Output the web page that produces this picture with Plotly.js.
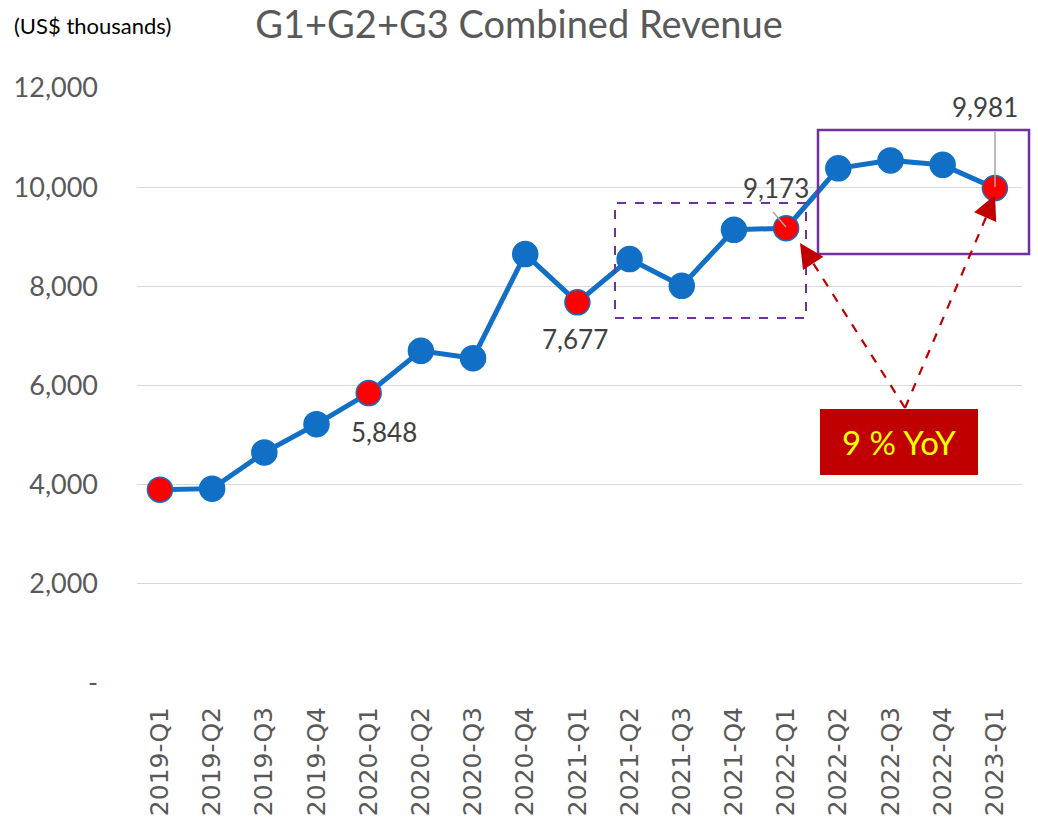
<!DOCTYPE html>
<html>
<head>
<meta charset="utf-8">
<script src="https://cdn.plot.ly/plotly-3.0.1.min.js"></script>
<style>html,body{margin:0;padding:0;background:#fff;}#chart{width:1038px;height:823px;}</style>
</head>
<body>
<div id="chart"></div>
<script>
const quarters = ["2019-Q1","2019-Q2","2019-Q3","2019-Q4","2020-Q1","2020-Q2","2020-Q3","2020-Q4","2021-Q1","2021-Q2","2021-Q3","2021-Q4","2022-Q1","2022-Q2","2022-Q3","2022-Q4","2023-Q1"];
const revenue = [3900, 3920, 4650, 5220, 5848, 6700, 6550, 8650, 7677, 8550, 8010, 9140, 9173, 10380, 10540, 10450, 9981];
const highlightQuarters = ["2019-Q1","2020-Q1","2021-Q1","2022-Q1","2023-Q1"];
const labeledQuarters = ["2020-Q1","2021-Q1","2022-Q1","2023-Q1"];
const yTickVals = [0, 2000, 4000, 6000, 8000, 10000, 12000];
const yTickText = ["-", "2,000", "4,000", "6,000", "8,000", "10,000", "12,000"];
const yoyText = "9 % YoY";

const BLUE = "#1170C6";
const markerColors = quarters.map(q => highlightQuarters.includes(q) ? "#FF0000" : BLUE);

// pixel -> paper helpers (plot area: x 137..1022, y 88..683)
const L = 137, R = 1022, T = 88, B = 683;
const px = v => (v - L) / (R - L);
const py = v => (B - v) / (B - T);

const labelOffsets = {"2020-Q1": [15, -39], "2021-Q1": [-2, -37], "2022-Q1": [-10, 40], "2023-Q1": [-10, 81]};

const annotations = labeledQuarters.map(q => {
  const i = quarters.indexOf(q);
  return {
    x: q, y: revenue[i], xref: "x", yref: "y",
    text: revenue[i].toLocaleString("en-US"),
    showarrow: false, xanchor: "center", yanchor: "middle",
    xshift: labelOffsets[q][0], yshift: labelOffsets[q][1],
    font: {family: "Lato", size: 26, color: "#404040"}
  };
});

annotations.push({
  xref: "paper", yref: "paper", x: px(899), y: py(442), xanchor: "center", yanchor: "middle",
  text: yoyText, showarrow: false,
  font: {family: "Lato", size: 33, color: "#FFFF00"}
});
// arrow heads
annotations.push({
  xref: "paper", yref: "paper", x: px(800), y: py(243), text: "",
  showarrow: true, arrowhead: 2, arrowsize: 2.2, arrowwidth: 2.2, arrowcolor: "#C00000",
  ax: 11, ay: 17
});
annotations.push({
  xref: "paper", yref: "paper", x: px(995), y: py(195), text: "",
  showarrow: true, arrowhead: 2, arrowsize: 2.2, arrowwidth: 2.2, arrowcolor: "#C00000",
  ax: -8, ay: 18
});
annotations.push({
  xref: "paper", yref: "paper", x: px(12), y: py(26), xanchor: "left", yanchor: "middle",
  text: "(US$ thousands)", showarrow: false,
  font: {family: "Lato", size: 22, color: "#000000"}
});

const shapes = [
  {type: "rect", xref: "paper", yref: "paper", x0: px(615), x1: px(806), y0: py(318), y1: py(203),
   line: {color: "#7030A0", width: 2, dash: "dash"}},
  {type: "rect", xref: "paper", yref: "paper", x0: px(818), x1: px(1029), y0: py(254), y1: py(130),
   line: {color: "#7030A0", width: 2.5}},
  {type: "line", xref: "paper", yref: "paper", x0: px(905), y0: py(408), x1: px(808), y1: py(255),
   line: {color: "#C00000", width: 2.2, dash: "dash"}},
  {type: "line", xref: "paper", yref: "paper", x0: px(905), y0: py(408), x1: px(990), y1: py(208),
   line: {color: "#C00000", width: 2.2, dash: "dash"}},
  {type: "rect", xref: "paper", yref: "paper", x0: px(820), x1: px(978), y0: py(475), y1: py(409),
   fillcolor: "#C00000", line: {color: "#C00000", width: 0}},
  {type: "line", xref: "paper", yref: "paper", x0: px(773), y0: py(212), x1: px(786), y1: py(227),
   line: {color: "#A6A6A6", width: 1.5}},
  {type: "line", xref: "paper", yref: "paper", x0: px(995), y0: py(132), x1: px(995), y1: py(187),
   line: {color: "#A6A6A6", width: 1.5}}
];

const trace = {
  x: quarters, y: revenue, type: "scatter", mode: "lines+markers",
  line: {color: BLUE, width: 5},
  marker: {size: 25, color: markerColors, line: {color: BLUE, width: 1.5}},
  hoverinfo: "x+y", cliponaxis: false
};

const layout = {
  width: 1038, height: 823,
  margin: {l: L, r: 1038 - R, t: T, b: 823 - B, pad: 0},
  paper_bgcolor: "#FFFFFF", plot_bgcolor: "#FFFFFF",
  showlegend: false,
  title: {text: "G1+G2+G3 Combined Revenue", x: 0.5, xanchor: "center", y: 1 - 25/823, yanchor: "middle",
    font: {family: "Lato", size: 38, color: "#595959"}},
  xaxis: {
    type: "category", range: [-0.44, 16.52], tickangle: -90, automargin: false,
    showgrid: false, zeroline: false, showline: false, ticks: "",
    ticklabelstandoff: 18,
    tickfont: {family: "DejaVu Sans, Verdana, sans-serif", size: 25, color: "#595959"}
  },
  yaxis: {
    range: [0, 12000], tickvals: yTickVals, ticktext: yTickText, automargin: false,
    showgrid: true, gridcolor: "#D9D9D9", gridwidth: 1, zeroline: false, showline: false, ticks: "",
    ticklabelstandoff: 38,
    tickfont: {family: "Lato", size: 27, color: "#595959"}
  },
  shapes: shapes,
  annotations: annotations
};

Plotly.newPlot("chart", [trace], layout, {displayModeBar: false, staticPlot: true});
</script>
</body>
</html>
